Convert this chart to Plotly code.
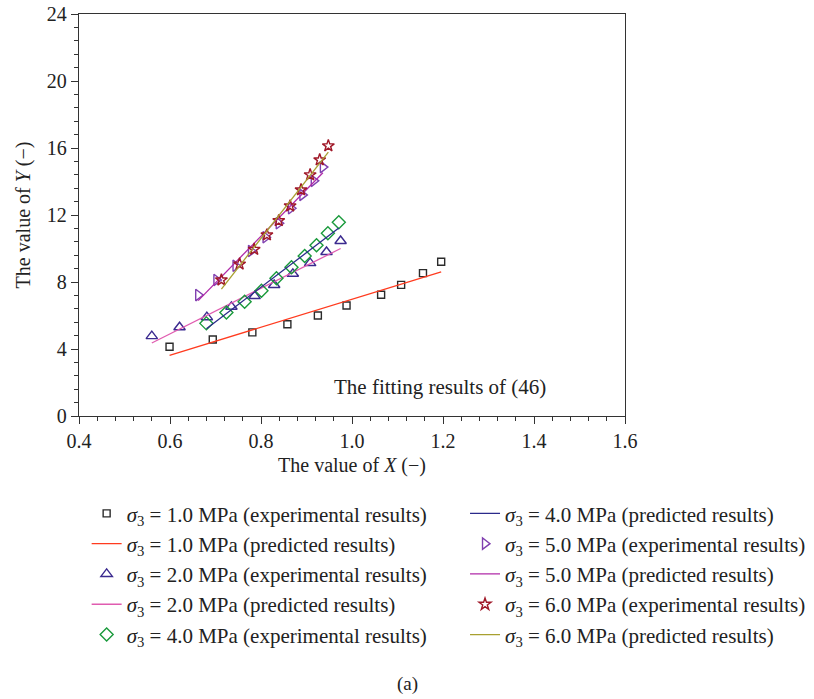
import plotly.graph_objects as go

# ---- data ----
x_s1 = [0.599, 0.694, 0.781, 0.858, 0.925, 0.988, 1.064, 1.108, 1.156, 1.196]
y_s1_exp = [4.13, 4.57, 4.99, 5.48, 6.00, 6.60, 7.24, 7.83, 8.53, 9.21]
y_s1_pred = [3.62, 4.42, 5.14, 5.79, 6.35, 6.87, 7.51, 7.88, 8.28, 8.61]

x_s2 = [0.560, 0.621, 0.681, 0.735, 0.786, 0.829, 0.870, 0.908, 0.944, 0.975]
y_s2_exp = [4.77, 5.30, 5.90, 6.52, 7.16, 7.82, 8.49, 9.13, 9.79, 10.45]
y_s2_pred = [4.36, 5.19, 6.00, 6.74, 7.43, 8.02, 8.57, 9.09, 9.58, 10.00]

x_s4 = [0.680, 0.724, 0.764, 0.801, 0.834, 0.867, 0.896, 0.922, 0.947, 0.971]
y_s4_exp = [5.53, 6.18, 6.82, 7.48, 8.22, 8.88, 9.55, 10.19, 10.91, 11.57]
y_s4_pred = [5.21, 6.12, 6.95, 7.72, 8.40, 9.08, 9.68, 10.21, 10.74, 11.22]

x_s5 = [0.662, 0.702, 0.744, 0.778, 0.810, 0.839, 0.866, 0.891, 0.916, 0.936]
y_s5_exp = [7.22, 8.12, 8.97, 9.85, 10.67, 11.51, 12.40, 13.20, 14.04, 14.86]
y_s5_pred = [6.89, 8.01, 9.16, 10.12, 11.00, 11.81, 12.57, 13.27, 13.95, 14.52]

x_s6 = [0.713, 0.753, 0.785, 0.813, 0.839, 0.864, 0.888, 0.908, 0.929, 0.948]
y_s6_exp = [8.12, 9.07, 9.95, 10.81, 11.66, 12.54, 13.50, 14.40, 15.29, 16.13]
y_s6_pred = [7.58, 8.98, 10.09, 11.06, 11.95, 12.84, 13.66, 14.36, 15.09, 15.75]

x_ticks = [0.4, 0.6, 0.8, 1.0, 1.2, 1.4, 1.6]
y_ticks = [0, 4, 8, 12, 16, 20, 24]

FONT = "Liberation Serif"

def lab(p, kind):
    return f"<i>σ</i><sub>3</sub> = {p} MPa ({kind} results)"

fig = go.Figure()

def exp_trace(x, y, sym, color, p, leg, size=8):
    fig.add_trace(go.Scatter(
        x=x, y=y, mode="markers", name=lab(p, "experimental"),
        marker=dict(symbol=sym, size=size, color=color, line=dict(width=1.4, color=color)),
        legend=leg, legendgroup=f"e{p}"))

def pred_trace(x, y, color, p, leg):
    fig.add_trace(go.Scatter(
        x=x, y=y, mode="lines", name=lab(p, "predicted"),
        line=dict(color=color, width=1.3), legend=leg, legendgroup=f"p{p}"))

exp_trace(x_s1, y_s1_exp, "square-open", "#2b2b2b", "1.0", "legend", 7)
pred_trace(x_s1, y_s1_pred, "#ff3b1f", "1.0", "legend")
exp_trace(x_s2, y_s2_exp, "triangle-up-open", "#3b2a8f", "2.0", "legend", 10)
pred_trace(x_s2, y_s2_pred, "#e05cb0", "2.0", "legend")
exp_trace(x_s4, y_s4_exp, "diamond-open", "#1a9a3c", "4.0", "legend", 10)
pred_trace(x_s4, y_s4_pred, "#2b2a8a", "4.0", "legend2")
exp_trace(x_s5, y_s5_exp, "triangle-right-open", "#8040b0", "5.0", "legend2", 10)
pred_trace(x_s5, y_s5_pred, "#b02aa8", "5.0", "legend2")
exp_trace(x_s6, y_s6_exp, "star-open", "#a01828", "6.0", "legend2", 9)
pred_trace(x_s6, y_s6_pred, "#a8a030", "6.0", "legend2")

axis_common = dict(
    showline=True, linecolor="#333333", linewidth=1.3, mirror=True,
    ticks="outside", ticklen=7, tickwidth=1.2, tickcolor="#333333",
    showgrid=False, zeroline=False,
    tickfont=dict(family=FONT, size=20, color="#222222"),
)

fig.update_xaxes(
    range=[0.4, 1.6], tickvals=x_ticks, ticktext=[f"{v:.1f}" for v in x_ticks],
    minor=dict(dtick=0.04, tick0=0.4, ticks="outside", ticklen=4, tickcolor="#333333", tickwidth=1.0),
    title=dict(text="The value of <i>X</i> (−)", font=dict(family=FONT, size=20, color="#222222"), standoff=6),
    **axis_common)
fig.update_yaxes(
    range=[0, 24], tickvals=y_ticks, ticktext=[str(v) for v in y_ticks],
    minor=dict(dtick=0.8, tick0=0, ticks="outside", ticklen=4, tickcolor="#333333", tickwidth=1.0),
    title=dict(text="The value of <i>Y</i> (−)", font=dict(family=FONT, size=20, color="#222222"), standoff=10),
    **axis_common)

leg_common = dict(
    font=dict(family=FONT, size=21, color="#222222"),
    bgcolor="rgba(0,0,0,0)", borderwidth=0,
    xanchor="left", yanchor="top", traceorder="grouped", tracegroupgap=0,
    itemwidth=30,
)
fig.update_layout(
    width=814, height=699,
    margin=dict(l=79, r=189, t=14, b=283, autoexpand=False),
    plot_bgcolor="white", paper_bgcolor="white",
    showlegend=True,
    legend=dict(x=0.014, y=-0.192, **leg_common),
    legend2=dict(x=0.707, y=-0.192, **leg_common),
    annotations=[
        dict(text="The fitting results of (46)", x=0.662, y=0.072, xref="paper", yref="paper",
             showarrow=False, font=dict(family=FONT, size=21, color="#222222"),
             xanchor="center", yanchor="middle"),
        dict(text="(a)", x=0.601, y=-0.667, xref="paper", yref="paper",
             showarrow=False, font=dict(family=FONT, size=19, color="#222222"),
             xanchor="center", yanchor="middle"),
    ],
)

fig.write_html("out.html")
